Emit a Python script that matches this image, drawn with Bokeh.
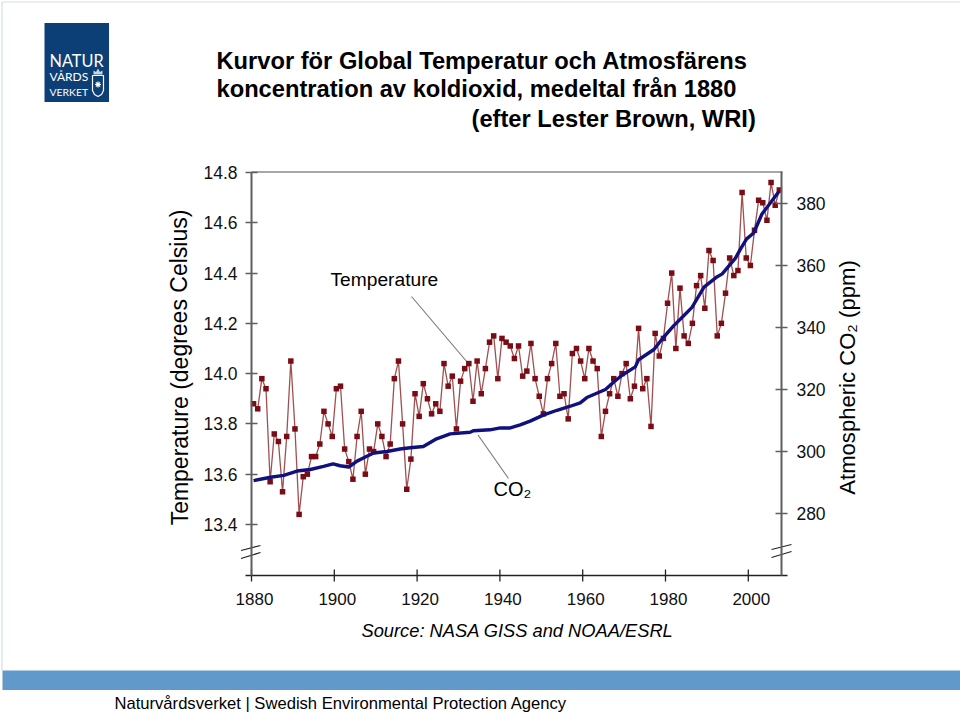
from bokeh.plotting import figure
from bokeh.models import Range1d, LinearAxis, FixedTicker, Label, NumeralTickFormatter
from bokeh.embed import file_html
from bokeh.resources import INLINE

years = list(range(1880, 2008))
temperature = [13.88,13.86,13.98,13.94,13.57,13.76,13.73,13.53,13.75,14.05,
 13.78,13.44,13.59,13.60,13.67,13.67,13.72,13.85,13.80,13.75,
 13.94,13.95,13.70,13.65,13.58,13.75,13.85,13.60,13.70,13.69,
 13.80,13.75,13.67,13.72,13.98,14.05,13.80,13.54,13.66,13.92,
 13.83,13.96,13.90,13.84,13.88,13.85,14.04,13.95,13.99,13.78,
 13.97,14.02,14.04,13.89,14.05,13.92,14.02,14.125,14.15,13.98,
 14.14,14.125,14.11,14.06,14.11,13.99,14.01,14.12,13.98,13.91,
 13.84,13.98,14.04,14.12,13.91,13.92,13.82,14.08,14.10,14.05,
 13.98,14.10,14.05,14.02,13.75,13.85,13.92,13.98,13.91,14.00,
 14.04,13.90,13.95,14.18,13.94,13.98,13.79,14.16,14.07,14.14,
 14.28,14.40,14.10,14.34,14.15,14.12,14.20,14.35,14.39,14.26,
 14.49,14.45,14.15,14.20,14.32,14.46,14.39,14.41,14.72,14.46,
 14.43,14.57,14.69,14.68,14.61,14.76,14.67,14.73]

co2_years = [1880.5,1884.6,1887.8,1891,1894.2,1897.4,1899.7,1901.4,1903.5,1905.5,1907.5,1909.5,
 1912.7,1915.9,1918.3,1921.5,1924.7,1928,1932.8,1933.6,1937.6,1940.1,1942.5,1944.9,1947.3,
 1950.6,1953.8,1957,1959.4,1961,1965.5,1967.5,1969.5,1972.7,1973.5,1977.2,1979.2,1982,1984.4,
 1986.4,1989.3,1992.5,1993.7,1996.9,1998.1,1999.6,2001.3,2003.3,2007.4]
co2_ppm = [290.6,291.7,292.3,293.7,294.2,295.2,296.0,295.4,295.0,296.9,298.2,299.5,
 300.0,300.8,301.2,301.6,304.1,305.7,306.2,306.7,307.0,307.6,307.6,308.6,309.8,
 311.8,313.3,314.6,315.7,317.4,320.0,322.4,324.6,327.3,329.6,332.9,336.3,340.6,343.8,
 346.5,353.0,356.4,357.3,362.4,365.3,368.6,370.5,376.6,383.9]

temp_ticks = [13.4,13.6,13.8,14.0,14.2,14.4,14.6,14.8]
co2_ticks = [280,300,320,340,360,380]
year_ticks = [1880,1900,1920,1940,1960,1980,2000]

W, H = 960, 715
PXY, PXT, PXC = 4.14, 251.4, 3.1
x0 = 1880 - 251 / PXY
y_top = 14.8 + 172 / PXT
c_top = 380 + 203 / PXC

def X(px): return x0 + px / PXY
def Y(py): return y_top - py / PXT
def SY(py): return H - py

p = figure(width=W, height=H, output_backend="svg", toolbar_location=None,
           x_axis_location=None, y_axis_location=None, min_border=0,
           x_range=Range1d(x0, x0 + W / PXY), y_range=Range1d(y_top - H / PXT, y_top))
p.outline_line_color = None
p.grid.visible = False
p.extra_y_ranges = {"co2": Range1d(c_top - H / PXC, c_top)}
p.extra_x_ranges = {"labels": Range1d(x0 - 3 / PXY, x0 + (W - 3) / PXY)}

FONT = "Liberation Sans"
AXG = "#5f5f5f"

def style(ax, lw, col):
    ax.axis_line_color = col; ax.axis_line_width = lw
    ax.major_tick_line_color = col; ax.major_tick_line_width = 1.3
    ax.minor_tick_line_color = None
    ax.major_tick_in = 6; ax.major_tick_out = 6
    ax.major_label_text_font = FONT; ax.major_label_text_font_size = "17.5px"
    ax.major_label_text_color = "#111111"

left = LinearAxis(fixed_location=1880, ticker=FixedTicker(ticks=temp_ticks),
                  formatter=NumeralTickFormatter(format="0.0"), bounds=(Y(575), 14.8))
style(left, 2, AXG); left.major_label_standoff = 8
p.add_layout(left, "left")

right = LinearAxis(fixed_location=2008, y_range_name="co2", ticker=FixedTicker(ticks=co2_ticks),
                   bounds=(380 - (575 - 203) / PXC, 380 + 32 / PXC))
style(right, 2, AXG); right.major_label_standoff = 9
p.add_layout(right, "right")

bottom = LinearAxis(fixed_location=Y(575), x_range_name="labels", ticker=FixedTicker(ticks=year_ticks),
                    bounds=(X(242), X(784)))
style(bottom, 1.5, "#222222")
bottom.major_tick_line_color = None
bottom.major_tick_in = 0; bottom.major_tick_out = 0
bottom.major_label_text_font_size = "17px"
bottom.major_label_standoff = 17
p.add_layout(bottom, "below")
p.segment(x0=year_ticks, y0=[Y(569)] * len(year_ticks), x1=year_ticks, y1=[Y(581)] * len(year_ticks),
          line_color="#222222", line_width=1.3)

# page frame
p.segment(x0=[X(1.5), X(1.5)], y0=[Y(1.5), Y(1.5)], x1=[X(960), X(1.5)], y1=[Y(1.5), Y(670)],
          line_color="#d3dfe3", line_width=1.2)

# decorations
p.segment(x0=[X(251)], y0=[Y(171.5)], x1=[X(782)], y1=[Y(171.5)], line_color="#8a8a8a", line_width=1.5)
p.segment(x0=[X(240.5), X(240.5), X(771), X(771)], y0=[Y(550), Y(558), Y(549), Y(557)],
          x1=[X(260), X(260), X(791), X(791)], y1=[Y(545), Y(552), Y(544), Y(551)],
          line_color="#222222", line_width=1.2)
p.segment(x0=[X(411), X(477.5)], y0=[Y(296), Y(434.5)], x1=[X(467), X(508)], y1=[Y(362), Y(478)],
          line_color="#777777", line_width=1.1)

# band
p.quad(left=[X(2)], right=[X(960)], top=[Y(670)], bottom=[Y(689.5)], fill_color="#6299cb", line_color=None)

# logo
p.quad(left=[X(44)], right=[X(108.5)], top=[Y(22.5)], bottom=[Y(101.5)], fill_color="#0d3f77", line_color=None)
p.patch(x=[X(92), X(103), X(103), X(101), X(97.5), X(94), X(92)],
        y=[Y(75), Y(75), Y(90), Y(94), Y(96), Y(94), Y(90)],
        fill_color="#0d3f77", line_color="white", line_width=1.2)
p.patch(x=[X(93), X(93), X(95.5), X(97.5), X(99.5), X(102), X(102)],
        y=[Y(74), Y(70), Y(71.5), Y(68), Y(71.5), Y(70), Y(74)],
        fill_color="#c9d6e4", line_color=None)
p.scatter(x=[X(97.5)], y=[Y(84)], marker="asterisk", size=6, line_color="white", line_width=1.2)

# series
xs = [y + 0.5 for y in years]
p.line(xs, temperature, line_color="#a05050", line_width=1.3)
p.scatter(xs, temperature, marker="square", size=5.5, fill_color="#7a0c16", line_color="#7a0c16", line_width=0)
p.line(co2_years, co2_ppm, y_range_name="co2", line_color="#10107e", line_width=3.4, line_join="round")

def T(text, px, py, size, color="#000000", style="normal", align="left", angle=0, font=FONT):
    p.add_layout(Label(x=px, y=SY(py), x_units="screen", y_units="screen", text=text,
                       text_font=font, text_font_size=f"{size}px", text_font_style=style,
                       text_color=color, text_align=align, text_baseline="middle", angle=angle))

T("Kurvor för Global Temperatur och Atmosfärens", 216, 60, 23.7, style="bold")
T("koncentration av koldioxid, medeltal från 1880", 216, 88, 23.7, style="bold")
T("(efter Lester Brown, WRI)", 471, 118, 23.7, style="bold")
T("NATUR", 49, 60, 16.3, color="white", font="Lato")
T("VÅRDS", 49, 76, 12, color="white", font="Lato")
T("VERKET", 49, 91, 10.4, color="white", font="Lato")
T("Temperature (degrees Celsius)", 179, 367, 23, align="center", angle=1.5708)
T("Atmospheric CO₂ (ppm)", 847, 377, 22.1, align="center", angle=1.5708)
T("Temperature", 330, 279, 19.2)
T("CO₂", 493, 488, 20)
T("Source: NASA GISS and NOAA/ESRL", 361, 630, 18.3, style="italic")
T("Naturvårdsverket | Swedish Environmental Protection Agency", 114, 703, 16.6)

open("out.html", "w").write(file_html(p, INLINE))
